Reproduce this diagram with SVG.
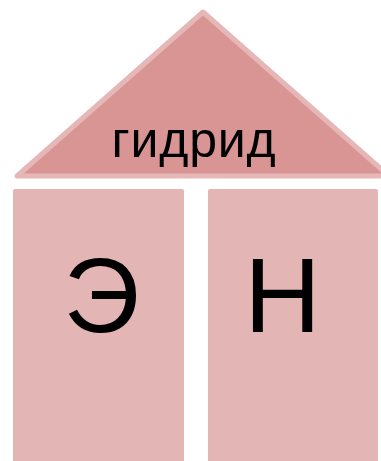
<svg xmlns="http://www.w3.org/2000/svg" width="381" height="461" viewBox="0 0 381 461">
<style>
.roof{fill:#d99594;stroke:#e6b7b7;stroke-width:5;stroke-linejoin:round}
.wall{fill:#e4b5b5}
.t{font-family:"Liberation Sans",Arial,sans-serif;fill:#000;text-anchor:middle}
</style>
<rect width="381" height="461" fill="#fff"/>
<g id="roof">
<path class="roof" d="M203,12 L389,176 L17,176 Z"/>
<text class="t" x="194" y="157" font-size="50" letter-spacing="0.8">гидрид</text>
</g>
<g id="left">
<rect class="wall" x="13" y="189" width="171" height="290" rx="2"/>
<text class="t" x="101.5" y="332" font-size="106">Э</text>
</g>
<g id="right">
<rect class="wall" x="208" y="189" width="170" height="290" rx="2"/>
<text class="t" x="282.5" y="332" font-size="106">Н</text>
</g>
<g id="connectors"></g>
</svg>
